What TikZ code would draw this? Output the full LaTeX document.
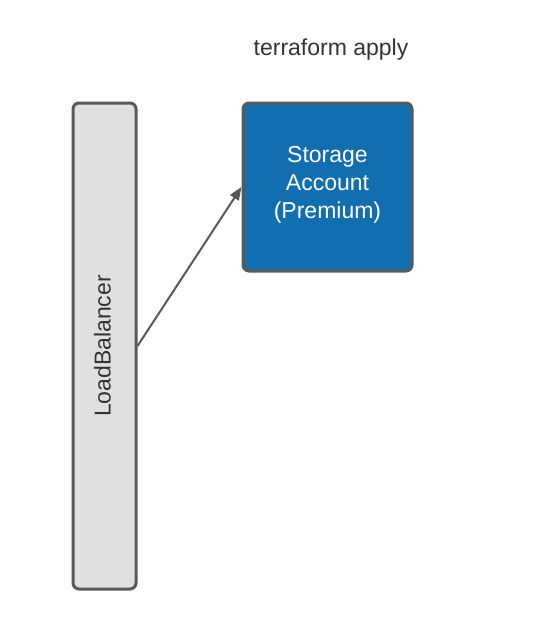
\documentclass[tikz,border=0pt]{standalone}
\usepackage{fontspec}
\setmainfont{Liberation Sans}
\usetikzlibrary{arrows.meta}
\definecolor{boxblue}{RGB}{17,111,176}
\definecolor{boxgray}{RGB}{224,224,224}
\definecolor{edgegray}{RGB}{89,89,89}
\definecolor{textgray}{RGB}{51,51,51}
\begin{document}
\begin{tikzpicture}[x=1pt,y=-1pt,font=\fontsize{23}{28}\selectfont,
  box/.style={draw=edgegray,line width=3pt,rounded corners=6pt,inner sep=0pt}]
            \useasboundingbox (0,0) rectangle (535,640);
            % load balancer
            \node[box,fill=boxgray,minimum width=63pt,minimum height=486pt] (lb) at (104.5,346) {};
            \node[rotate=90,text=textgray] (lbtext) at (102.5,346) {LoadBalancer};
            % storage account
            \node[box,fill=boxblue,minimum width=169pt,minimum height=168pt] (sa) at (327.5,187) {};
            \node[text=white,align=center] (satext) at (327.5,185) {Storage\\Account\\(Premium)};
            % title
            \node[text=textgray] (title) at (331,50) {terraform apply};
            \draw[edgegray,line width=2pt,-{Triangle[length=13pt,width=10pt]}] (lb.east) -- (sa.west);
        \end{tikzpicture}
\end{document}
